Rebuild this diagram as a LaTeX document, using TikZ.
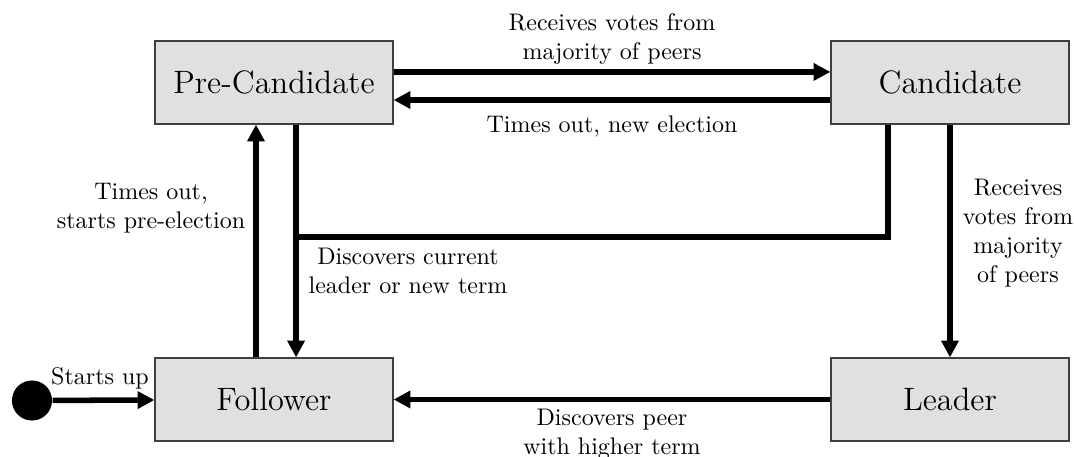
\documentclass[tikz,border=0pt]{standalone}
\usetikzlibrary{arrows.meta,calc}
\begin{document}
\begin{tikzpicture}[x=0.4167pt,y=-0.4167pt,
  state/.style={draw=black!75,line width=0.5pt,fill=black!12,
    minimum width=99.2pt,minimum height=34.6pt,inner sep=0pt,
    font=\fontsize{13.5}{16}\selectfont},
  link/.style={line width=2.3pt},
  arr/.style={link,-{Triangle[length=7pt,width=7pt]}},
  lbl/.style={align=center,font=\normalsize,inner sep=0pt}]
\useasboundingbox (0,0) rectangle (1074,457);

% states
\node[state] (PC) at (274,82.5) {Pre-Candidate};
\node[state] (C)  at (950,82.5) {Candidate};
\node[state] (F)  at (274,399.5) {Follower};
\node[state] (L)  at (950,399.5) {Leader};
\node[circle,fill=black,minimum size=16.7pt,inner sep=0pt] (S) at (32,400.5) {};

% transitions
\draw[arr] ([yshift=4.4pt]PC.east) -- ([yshift=4.4pt]C.west);
\draw[arr] ([yshift=-7.3pt]C.west) -- ([yshift=-7.3pt]PC.west -| PC.east);
\draw[arr] (S) -- (F);
\draw[arr] (L) -- (F);
\draw[arr] ([xshift=-7.5pt]F.north) -- ([xshift=-7.5pt]PC.south);
\draw[arr] ([xshift=9.2pt]PC.south) -- ([xshift=9.2pt]F.north);
\coordinate (J) at (296,237);
\draw[link] ([xshift=-25.8pt]C.south) |- (J);
\draw[arr] (C) -- (L);

% labels
\node[lbl] (l1) at (612,39) {Receives votes from\\majority of peers};
\node[lbl] (l2) at (612,126) {Times out, new election};
\node[lbl] (l3) at (151,208) {Times out,\\starts pre-election};
\node[lbl] (l4) at (408,271) {Discovers current\\leader or new term};
\node[lbl] (l5) at (1018,233) {Receives\\votes from\\majority\\of peers};
\node[lbl] (l6) at (612,434) {Discovers peer\\with higher term};
\node[lbl] (l7) at (100,378) {Starts up};
\end{tikzpicture}
\end{document}
